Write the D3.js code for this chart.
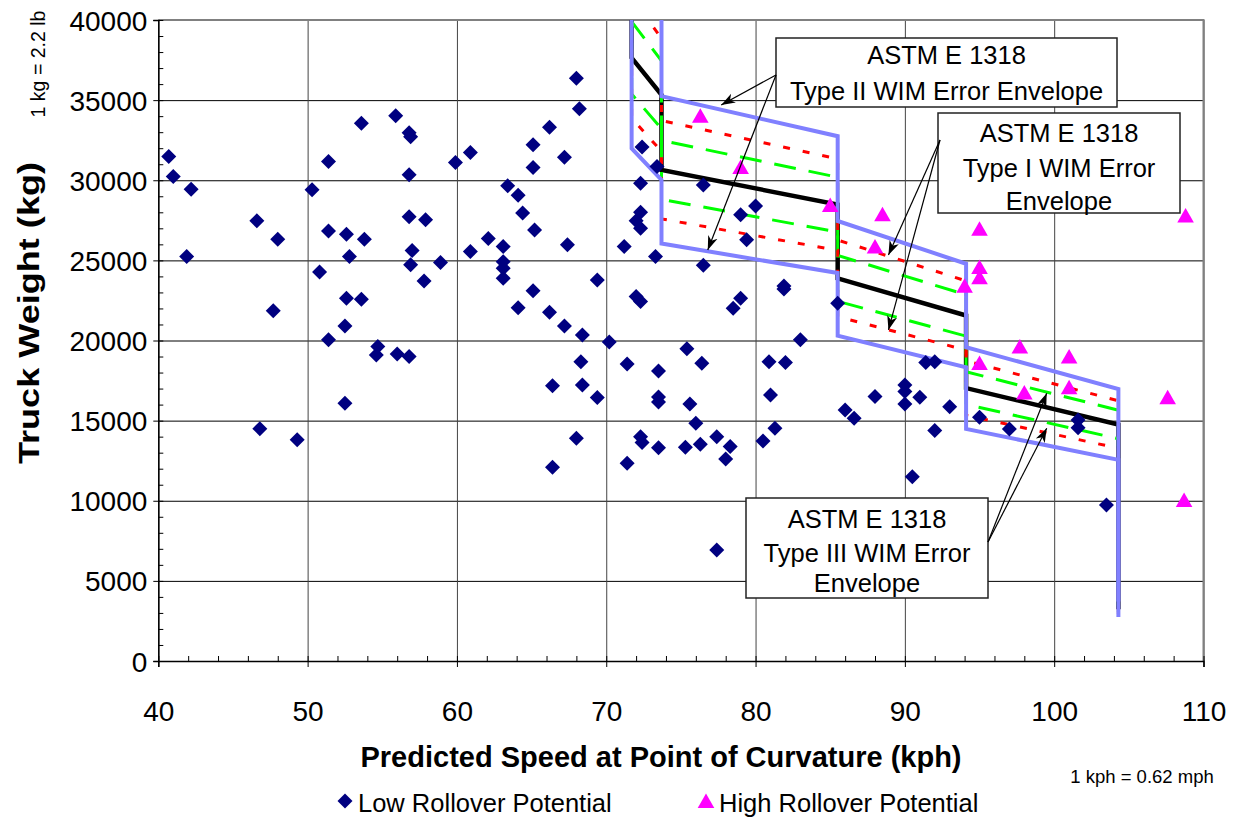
<!DOCTYPE html>
<html>
<head>
<meta charset="utf-8">
<script src="https://cdn.jsdelivr.net/npm/d3@7/dist/d3.min.js"></script>
<style>
body { margin: 0; background: #fff; }
text { font-family: "Liberation Sans", Arial, sans-serif; fill: #000; }
</style>
</head>
<body>
<svg id="chart" width="1236" height="819"></svg>
<script>
// low rollover potential points (speed kph, weight kg)
var lowSpeed = [40.7, 41.0, 42.2, 41.9, 46.6, 48.0, 47.7, 46.8, 49.3, 50.3, 50.8, 51.4, 51.4, 51.4, 52.6, 52.8, 52.6, 52.5, 52.5, 53.6,
    53.8, 53.6, 54.7, 54.6, 55.9, 56.0, 56.8, 56.9, 56.8, 56.8, 57.0, 56.9, 56.8, 57.9, 57.8, 58.9, 59.9, 60.9, 60.9, 62.1,
    63.1, 63.1, 63.1, 63.1, 63.4, 64.1, 64.1, 64.4, 65.1, 65.1, 65.2, 65.1, 66.2, 66.2, 66.4, 66.4, 67.2, 67.4, 67.2, 68.0,
    68.2, 68.0, 68.4, 68.3, 68.4, 69.4, 69.4, 70.2, 71.2, 71.4, 71.4, 72.0, 72.3, 72.3, 72.0, 72.3, 72.3, 72.4, 73.4, 73.3,
    72.3, 72.4, 73.5, 73.5, 73.5, 73.5, 75.4, 75.6, 75.3, 76.0, 76.4, 76.3, 76.5, 76.5, 77.4, 77.4, 78.0, 78.3, 78.5, 79.0,
    79.0, 79.4, 80.0, 80.5, 80.9, 81.0, 81.3, 81.9, 81.9, 82.0, 83.0, 85.5, 86.0, 86.6, 88.0, 90.0, 90.0, 90.0, 90.5, 91.0,
    91.4, 92.0, 92.0, 93.0, 95.0, 97.0, 101.6, 101.6, 103.5];
var lowWeight = [31480, 30230, 29440, 25240, 27470, 26320, 21850, 14500, 13800, 29400, 24280, 31170, 26840, 20040, 26630, 25240, 22640, 20910, 16090, 33560,
    26320, 22580, 19620, 19100, 34020, 19160, 32960, 32710, 30340, 27730, 25610, 24720, 19000, 27530, 23720, 24860, 31100, 31730, 25550, 26360,
    25860, 24920, 24510, 23890, 29650, 29070, 22050, 27950, 32210, 30790, 26900, 23110, 33310, 21770, 17170, 12090, 31440, 25970, 20910, 36370,
    34460, 13900, 20350, 18680, 17230, 23780, 16440, 19910, 25860, 18540, 12340, 27470, 28010, 27010, 22740, 22430, 29820, 32080, 30860, 25240,
    14000, 13630, 18100, 16480, 16170, 13310, 19480, 16040, 13340, 14840, 18580, 13530, 29710, 24700, 14000, 6930, 12610, 13380, 22020, 22640,
    27840, 26280, 28400, 13730, 18680, 16600, 14530, 23220, 23400, 18620, 20040, 22330, 15670, 15150, 16500, 17230, 16810, 16040, 11490, 16460,
    18620, 18680, 14380, 15870, 15210, 14480, 15040, 14560, 9740];

// high rollover potential points
var highSpeed = [76.3, 79.0, 85.0, 88.5, 88.0, 94.0, 95.0, 95.0, 95.0, 95.0, 97.7, 101.0, 98.0, 101.0, 107.6, 108.7, 108.8];
var highWeight = [34020, 30820, 28460, 27880, 25860, 23410, 26970, 24580, 23950, 18600, 19620, 19000, 16750, 17080, 16460, 10050, 27800];

// step line of threshold weight and WIM error envelopes
var envSpeed = [71.7, 71.7, 73.7, 73.7, 85.5, 85.5, 94.1, 94.1, 104.3, 104.3];
var envCenter = [48000, 37640, 35330, 30650, 28480, 23880, 21560, 17030, 14760, 3230];
var typeIIUpper = [55200, 43290, 40630, 35250, 32750, 27460, 24790, 19580, 16970, 3710];
var typeIILower = [40800, 31990, 30030, 26050, 24210, 20300, 18330, 14480, 12550, 2750];
var typeIUpper = [52800, 41400, 38860, 33720, 31330, 26270, 23720, 18730, 16240, 3550];
var typeILower = [43200, 33880, 31800, 27590, 25630, 21490, 19400, 15330, 13280, 2910];
var typeIIIUpper = [50880, 39900, 37450, 32490, 30190, 25310, 22850, 18050, 15650, 3420];
var typeIIILower = [45120, 35380, 33210, 28810, 26770, 22450, 20270, 16010, 13870, 3040];

var xTicks = [40, 50, 60, 70, 80, 90, 100, 110];
var yTicks = [0, 5000, 10000, 15000, 20000, 25000, 30000, 35000, 40000];

(function () {
var svg = d3.select('#chart');
var pl = 158.3, pr = 1203.5, pt = 20, pb = 661;
var x = d3.scaleLinear().domain([40, 110]).range([pl, pr]);
var y = d3.scaleLinear().domain([0, 40000]).range([pb, pt]);

var defs = svg.append('defs');
defs.append('clipPath').attr('id', 'plotclip')
    .append('rect').attr('x', pl).attr('y', pt).attr('width', pr - pl).attr('height', pb - pt);
var mk = defs.append('marker').attr('id', 'arrow')
    .attr('viewBox', '-14 -6 16 12').attr('refX', 0).attr('refY', 0)
    .attr('markerWidth', 16).attr('markerHeight', 12).attr('markerUnits', 'userSpaceOnUse').attr('orient', 'auto');
mk.append('path').attr('d', 'M0,0L-14,-5L-10,0L-14,5Z').attr('fill', '#000');

// gridlines
svg.append('g').attr('transform', 'translate(' + pl + ',0)')
    .call(d3.axisLeft(y).tickValues(yTicks).tickSize(-(pr - pl)).tickFormat(''))
    .call(g => g.select('.domain').remove())
    .selectAll('line').attr('stroke', '#000').attr('stroke-width', 1);
svg.append('g').attr('transform', 'translate(0,' + pb + ')')
    .call(d3.axisBottom(x).tickValues(xTicks).tickSize(-(pb - pt)).tickFormat(''))
    .call(g => g.select('.domain').remove())
    .selectAll('line').attr('stroke', '#444').attr('stroke-width', 1);

// plot border top/right
svg.append('path').attr('d', 'M' + pl + ',' + pt + 'H' + pr + 'V' + pb)
    .attr('fill', 'none').attr('stroke', '#808080').attr('stroke-width', 2);

// minor ticks
svg.append('g').attr('transform', 'translate(' + pl + ',0)')
    .call(d3.axisRight(y).tickValues(d3.range(0, 40001, 1000)).tickSize(5).tickFormat(''))
    .call(g => g.select('.domain').remove());
svg.append('g').attr('transform', 'translate(0,' + pb + ')')
    .call(d3.axisTop(x).tickValues(d3.range(40, 111, 2)).tickSize(5).tickFormat(''))
    .call(g => g.select('.domain').remove());

// main axes
var ya = svg.append('g').attr('transform', 'translate(' + pl + ',0)')
    .call(d3.axisLeft(y).tickValues(yTicks).tickSize(5).tickPadding(6).tickFormat(d3.format('d')));
ya.selectAll('text').style('font-size', '28px').attr('dy', '0.36em');
var xa = svg.append('g').attr('transform', 'translate(0,' + pb + ')')
    .call(d3.axisBottom(x).tickValues(xTicks).tickSize(6).tickPadding(34));
xa.selectAll('text').style('font-size', '28px');
svg.selectAll('.domain').attr('stroke', '#000').attr('stroke-width', 1.5);
svg.selectAll('.tick line').filter(function () { return d3.select(this).attr('stroke') == 'currentColor'; }).attr('stroke', '#000');

// envelope lines
var line = d3.line().x((d, i) => x(envSpeed[i])).y(d => y(d));
var env = svg.append('g').attr('clip-path', 'url(#plotclip)');
env.append('path').attr('d', line(envCenter)).attr('fill', 'none').attr('stroke', '#000').attr('stroke-width', 4.5);
[typeIIIUpper, typeIIILower].forEach(s => {
    env.append('path').attr('d', line(s)).attr('fill', 'none').attr('stroke', '#00ff00')
        .attr('stroke-width', 3).attr('stroke-dasharray', '22,13');
});
[typeIUpper, typeILower].forEach(s => {
    env.append('path').attr('d', line(s)).attr('fill', 'none').attr('stroke', '#ff0000')
        .attr('stroke-width', 3).attr('stroke-dasharray', '7,13');
});
[typeIIUpper, typeIILower].forEach(s => {
    env.append('path').attr('d', line(s)).attr('fill', 'none').attr('stroke', '#8080ff')
        .attr('stroke-width', 4);
});

// points
var diamond = 'M0,-7.5L7.5,0L0,7.5L-7.5,0Z';
var tri = 'M0,-7.5L8.3,7L-8.3,7Z';
svg.append('g').selectAll('path').data(lowSpeed).join('path')
    .attr('d', diamond).attr('fill', '#000080')
    .attr('transform', (d, i) => 'translate(' + x(d) + ',' + y(lowWeight[i]) + ')');
svg.append('g').selectAll('path').data(highSpeed).join('path')
    .attr('d', tri).attr('fill', '#ff00ff')
    .attr('transform', (d, i) => 'translate(' + x(d) + ',' + y(highWeight[i]) + ')');

// annotation boxes
var notes = [
    { box: [776, 38, 341, 69], lines: ['ASTM E 1318', 'Type II WIM Error Envelope'], ly: [55, 91], from: [776, 75],
      to: [[77.7, 34700], [76.8, 25650]] },
    { box: [938, 113, 242, 100], lines: ['ASTM E 1318', 'Type I WIM Error', 'Envelope'], ly: [133, 168, 201], from: [940, 140],
      to: [[88.9, 25340], [88.9, 20660]] },
    { box: [746, 498, 242, 100], lines: ['ASTM E 1318', 'Type III WIM Error', 'Envelope'], ly: [519, 553, 583], from: [988, 542],
      to: [[99.5, 16710], [99.5, 14520]] }
];
notes.forEach(n => {
    var g = svg.append('g');
    g.append('rect').attr('x', n.box[0]).attr('y', n.box[1]).attr('width', n.box[2]).attr('height', n.box[3])
        .attr('fill', '#fff').attr('stroke', '#222').attr('stroke-width', 1.5);
    n.lines.forEach((t, i) => {
        g.append('text').attr('x', n.box[0] + n.box[2] / 2).attr('y', n.ly[i]).attr('dy', '0.36em')
            .attr('text-anchor', 'middle').style('font-size', '25.5px').text(t);
    });
    n.to.forEach(p => {
        g.append('line').attr('x1', n.from[0]).attr('y1', n.from[1]).attr('x2', x(p[0])).attr('y2', y(p[1]))
            .attr('stroke', '#000').attr('stroke-width', 1.2).attr('marker-end', 'url(#arrow)');
    });
});

// axis titles
svg.append('text').attr('x', 661).attr('y', 757).attr('dy', '0.36em').attr('text-anchor', 'middle')
    .style('font-size', '29px').style('font-weight', 'bold').text('Predicted Speed at Point of Curvature (kph)');
svg.append('text').attr('transform', 'translate(28,313) rotate(-90)').attr('dy', '0.36em').attr('text-anchor', 'middle')
    .attr('textLength', 302).attr('lengthAdjust', 'spacingAndGlyphs')
    .style('font-size', '30px').style('font-weight', 'bold').text('Truck Weight (kg)');
svg.append('text').attr('x', 1142).attr('y', 776).attr('dy', '0.36em').attr('text-anchor', 'middle')
    .style('font-size', '18.5px').text('1 kph = 0.62 mph');
svg.append('text').attr('transform', 'translate(38,64) rotate(-90)').attr('dy', '0.36em').attr('text-anchor', 'middle')
    .style('font-size', '19.5px').text('1 kg = 2.2 lb');

// legend
var leg = svg.append('g');
leg.append('path').attr('d', diamond).attr('fill', '#000080').attr('transform', 'translate(345,801)');
leg.append('text').attr('x', 358).attr('y', 803).attr('dy', '0.36em').style('font-size', '25.5px').text('Low Rollover Potential');
leg.append('path').attr('d', tri).attr('fill', '#ff00ff').attr('transform', 'translate(706,801)');
leg.append('text').attr('x', 719).attr('y', 803).attr('dy', '0.36em').style('font-size', '25.5px').text('High Rollover Potential');
})();
</script>
</body>
</html>
